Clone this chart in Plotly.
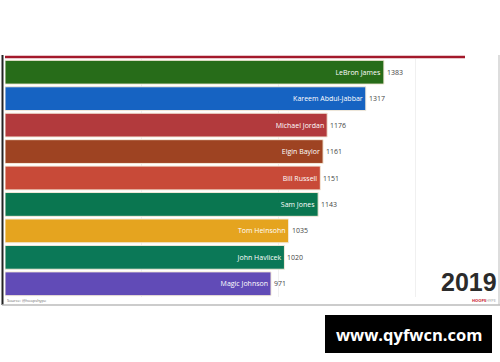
import plotly.graph_objects as go

players = ["LeBron James", "Kareem Abdul-Jabbar", "Michael Jordan", "Elgin Baylor",
           "Bill Russell", "Sam Jones", "Tom Heinsohn", "John Havlicek", "Magic Johnson"]
games = [1383, 1317, 1176, 1161, 1151, 1143, 1035, 1020, 971]
colors = ["#276c19", "#1663c2", "#b23a3d", "#9e4322", "#c84a38",
          "#0a7650", "#e5a41f", "#0b7857", "#614bb7"]
year_label = "2019"

W, H = 500, 362
L, R, T, B = 5, 35, 59, 65
pw, ph = W - L - R, H - T - B

def px(x):
    return (x - L) / pw

def py(y):
    return (H - B - y) / ph

fig = go.Figure()
fig.add_trace(go.Bar(
    x=games, y=players, orientation="h",
    marker=dict(color=colors, line=dict(color="#f4ead9", width=1)),
    text=players, textposition="inside", insidetextanchor="end",
    textfont=dict(color="white", size=7, family="Open Sans"),
    cliponaxis=False, hoverinfo="skip",
))

annotations = []
for p, g in zip(players, games):
    annotations.append(dict(x=g, y=p, xref="x", yref="y", text=str(g), showarrow=False,
                            xanchor="left", xshift=1,
                            font=dict(size=7, color="#444", family="Open Sans")))
annotations.append(dict(x=px(499), y=py(282), xref="paper", yref="paper", text="<b>" + year_label + "</b>",
                        showarrow=False, xanchor="right", yanchor="middle",
                        font=dict(size=25, color="#2b2b2b", family="Liberation Sans")))
annotations.append(dict(x=px(5), y=py(300), xref="paper", yref="paper", text="Source: @hoopshype",
                        showarrow=False, xanchor="left", yanchor="middle",
                        font=dict(size=4, color="#666", family="Open Sans")))
annotations.append(dict(x=px(498), y=py(300), xref="paper", yref="paper",
                        text="<b><span style='color:#c8202e'>HOOPS</span></b><span style='color:#999'>HYPE</span>",
                        showarrow=False, xanchor="right", yanchor="middle",
                        font=dict(size=4, family="Open Sans")))
annotations.append(dict(x=px(408.5), y=py(334), xref="paper", yref="paper", text="<b>www.qyfwcn.com</b>",
                        showarrow=False, xanchor="center", yanchor="middle",
                        font=dict(size=16.5, color="white", family="Open Sans")))

shapes = [
    dict(type="line", xref="paper", yref="paper", x0=0, x1=1, y0=py(57), y1=py(57),
         line=dict(color="#a3192b", width=2.5)),
    dict(type="line", xref="paper", yref="paper", x0=px(2.5), x1=px(2.5), y0=py(55), y1=py(305),
         line=dict(color="#222", width=2)),
    dict(type="line", xref="paper", yref="paper", x0=px(499), x1=px(499), y0=py(55), y1=py(305),
         line=dict(color="#bbb", width=1)),
    dict(type="line", xref="paper", yref="paper", x0=px(2), x1=px(500), y0=py(305), y1=py(305),
         line=dict(color="#bbb", width=1.5)),
    dict(type="rect", xref="paper", yref="paper", x0=px(325), x1=px(492), y0=py(315), y1=py(353),
         fillcolor="black", line=dict(width=0)),
]

fig.update_layout(
    width=W, height=H,
    margin=dict(l=L, r=R, t=T, b=B),
    paper_bgcolor="white", plot_bgcolor="white",
    showlegend=False, bargap=0.1,
    xaxis=dict(range=[0, 1679], showticklabels=False, showgrid=True, gridcolor="#f0f0f0",
               dtick=500, zeroline=False, showline=False, fixedrange=True),
    yaxis=dict(autorange="reversed", showticklabels=False, showgrid=False,
               zeroline=False, showline=False, fixedrange=True),
    annotations=annotations, shapes=shapes,
    uniformtext=dict(minsize=7, mode="show"),
)

fig.write_html("out.html", config={"displayModeBar": False},
               post_script="document.body.style.margin='0';document.body.style.overflow='hidden';")
